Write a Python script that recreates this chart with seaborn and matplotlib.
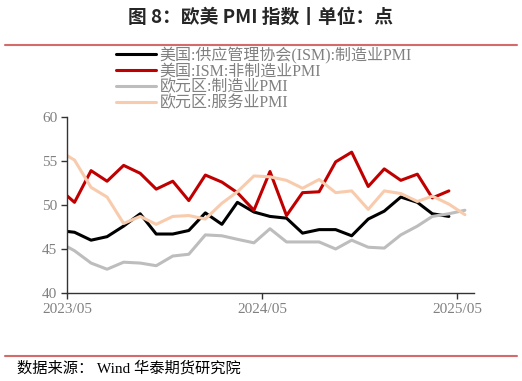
import pandas as pd
import matplotlib
matplotlib.use('Agg')
import matplotlib.pyplot as plt
from matplotlib.lines import Line2D
import seaborn as sns

# monthly values, 2023/04 onwards (points sit mid-month)
ism_mfg = [47.1, 46.9, 46.0, 46.4, 47.6, 49.0, 46.7, 46.7, 47.1, 49.1, 47.8, 50.3, 49.2,
           48.7, 48.5, 46.8, 47.2, 47.2, 46.5, 48.4, 49.3, 50.9, 50.3, 49.0, 48.7]
ism_svc = [51.9, 50.3, 53.9, 52.7, 54.5, 53.6, 51.8, 52.7, 50.5, 53.4, 52.6, 51.4, 49.4,
           53.8, 48.8, 51.4, 51.5, 54.9, 56.0, 52.1, 54.1, 52.8, 53.5, 50.8, 51.6]
ez_mfg = [45.8, 44.8, 43.4, 42.7, 43.5, 43.4, 43.1, 44.2, 44.4, 46.6, 46.5, 46.1, 45.7,
          47.3, 45.8, 45.8, 45.8, 45.0, 46.0, 45.2, 45.1, 46.6, 47.6, 48.7, 49.0, 49.4]
ez_svc = [56.2, 55.1, 52.0, 50.9, 47.9, 48.7, 47.8, 48.7, 48.8, 48.4, 50.2, 51.5, 53.3,
          53.2, 52.8, 51.9, 52.9, 51.4, 51.6, 49.5, 51.6, 51.3, 50.4, 51.0, 50.1, 48.9]

labels = ['美国:供应管理协会(ISM):制造业PMI', '美国:ISM:非制造业PMI', '欧元区:制造业PMI', '欧元区:服务业PMI']
colors = ['#000000', '#c00000', '#bdbdbd', '#f8cbad']
series = [ism_mfg, ism_svc, ez_mfg, ez_svc]

dates = pd.date_range('2023-04-01', periods=26, freq='MS') + pd.Timedelta(days=14)
tick_dates = pd.to_datetime(['2023-05-01', '2024-05-01', '2025-05-01'])
tick_labels = ['2023/05', '2024/05', '2025/05']

sns.set_theme(style='ticks')
plt.rcParams['font.family'] = ['Liberation Serif', 'Noto Sans CJK SC']

fig = plt.figure(figsize=(5.22, 3.81), dpi=100)
ax = fig.add_axes([0.1284, 0.231, 0.7796, 0.462])

for vals, col, lab in zip(series, colors, labels):
    sns.lineplot(x=dates[:len(vals)], y=vals, ax=ax, color=col, linewidth=2.2, legend=False)

ax.set_xlim(pd.Timestamp('2023-05-01'), pd.Timestamp('2025-06-01'))
ax.set_ylim(40, 60)
ax.set_yticks([40, 45, 50, 55, 60])
ax.set_xticks(tick_dates)
ax.set_xticklabels(tick_labels)
ax.set_xlabel('')
ax.set_ylabel('')
sns.despine(ax=ax)
for s in ['left', 'bottom']:
    ax.spines[s].set_color('#333333')
    ax.spines[s].set_linewidth(1.0)
ax.tick_params(direction='out', length=4, width=1, color='#333333',
               labelcolor='#808080', labelsize=11, pad=3)

handles = [Line2D([], [], color=c, linewidth=2.2) for c in colors]
fig.legend(handles, labels, loc='upper left', bbox_to_anchor=(0.222, 0.878),
           frameon=False, fontsize=11.5, labelspacing=0.0, handlelength=2.5,
           handletextpad=0.25, borderaxespad=0, borderpad=0, labelcolor='#808080')

fig.text(0.5, 0.955, '图 8：欧美 PMI 指数丨单位：点', ha='center', va='center',
         fontsize=13.5, weight='bold', family=['Noto Sans CJK SC'])
fig.add_artist(Line2D([0.01, 0.99], [0.883, 0.883], transform=fig.transFigure,
                      color='#d46a6a', linewidth=1.5))
fig.add_artist(Line2D([0.01, 0.99], [0.066, 0.066], transform=fig.transFigure,
                      color='#d46a6a', linewidth=1.5))
fig.text(0.033, 0.034, '数据来源： Wind 华泰期货研究院', va='center', fontsize=11, color='black')

fig.savefig('out.png', dpi=100)
